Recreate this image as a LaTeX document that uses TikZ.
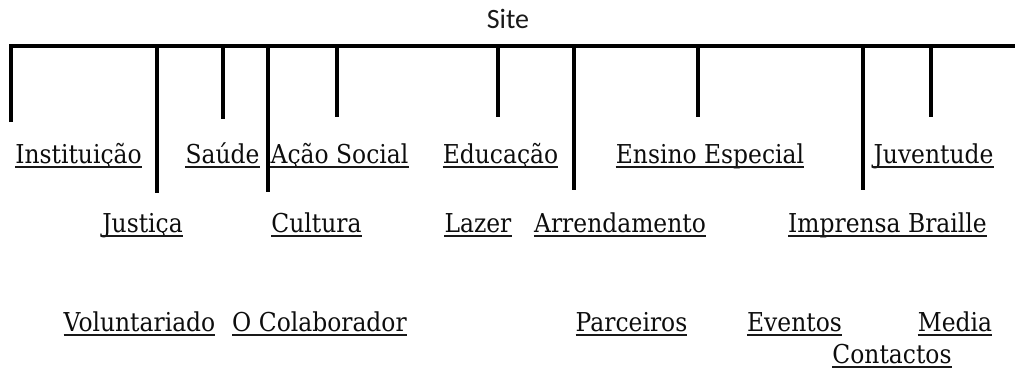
\documentclass[tikz,border=0pt]{standalone}
\usepackage{fontspec}
\setmainfont{DejaVu Serif}[FakeStretch=0.9]
\newfontfamily\sitefont{Carlito}
\tikzset{
  lbl/.style={inner sep=0pt, anchor=base, font=\fontsize{26}{30}\selectfont, text=black!95},
  sitelbl/.style={inner sep=0pt, anchor=base, font=\sitefont\fontsize{28}{32}\selectfont, text=black!90},
  ul/.style={line width=1.8pt, black!90},
  bar/.style={line width=3.4pt, black, line join=miter},
  tick/.style={line width=3.2pt, black}
}
\newcommand\lab[4]{%
  \node[lbl] (#1) at (#2,-#3) {#4};
  \draw[ul] ([yshift=-3.5pt]#1.base west) -- ([yshift=-3.5pt]#1.base east);}
\begin{document}
\begin{tikzpicture}[x=1pt,y=1pt]
\useasboundingbox (0,-372) rectangle (1015,0);
% title
\node[sitelbl] (site) at (508,-28) {Site};
% bar coordinates
\coordinate (b0) at (11,-46);
\coordinate (bR) at (1016,-46);
\foreach \n/\x/\e in {b1/157/193, b2/223/119, b3/268/192, b4/337/117, b5/498/117, b6/574/190, b7/698/117, b8/863/190, b9/931/117}{
  \coordinate (\n) at (\x,-46);
  \coordinate (\n e) at (\x,-\e);
}
\coordinate (b0e) at (11,-122);
\draw[bar] (b0e) -- (b0) -- (bR);
\foreach \n in {b1,b2,b3,b4,b5,b6,b7,b8,b9}{
  \draw[tick] (\n) -- (\n e);
}
% row 1
\lab{inst}{78.5}{163.5}{Instituição}
\lab{saude}{222.5}{163.5}{Saúde}
\lab{acao}{339.5}{163.5}{Ação Social}
\lab{edu}{500.5}{163.5}{Educação}
\lab{ensino}{710}{163.5}{Ensino Especial}
\lab{juv}{933.5}{163.5}{Juventude}
% row 2
\lab{just}{142.5}{232.5}{Justiça\ }
\lab{cult}{316.5}{232.5}{Cultura}
\lab{lazer}{478}{232.5}{Lazer\ }
\lab{arrend}{620}{232.5}{Arrendamento}
\lab{impr}{887.5}{232.5}{Imprensa Braille}
% row 3
\lab{volun}{139.5}{331.5}{Voluntariado}
\lab{colab}{319.5}{331.5}{O Colaborador}
\lab{parc}{631.5}{331.5}{Parceiros}
\lab{event}{794.5}{331.5}{Eventos}
\lab{media}{955}{331.5}{Media}
\lab{cont}{892}{363.5}{Contactos}
\end{tikzpicture}
\end{document}
